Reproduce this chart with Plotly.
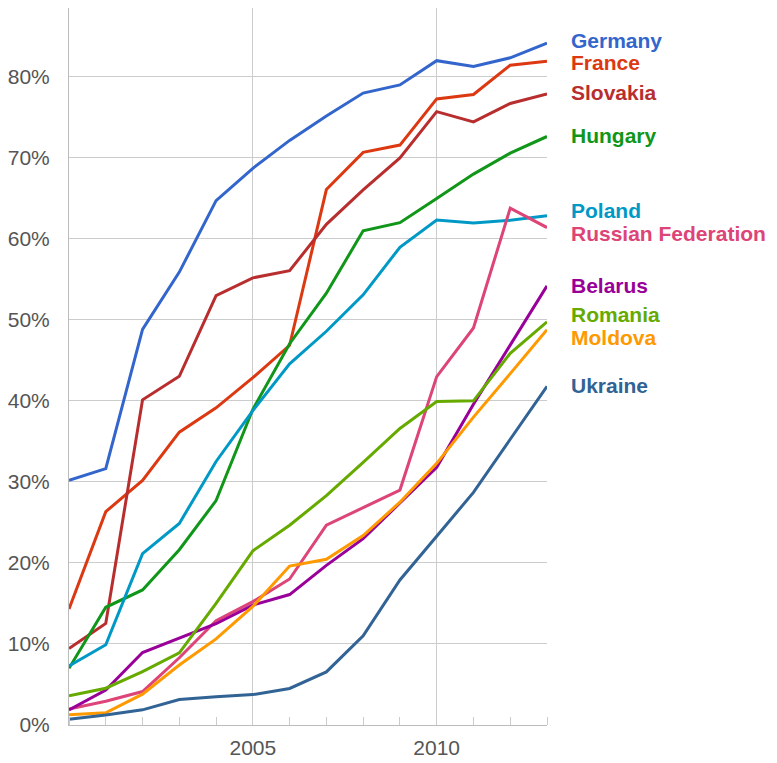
import plotly.graph_objects as go

years = list(range(2000, 2014))

germany = [30.2, 31.65, 48.82, 55.9, 64.73, 68.71, 72.16, 75.16, 78.0, 79.0, 82.0, 81.27, 82.35, 84.17]
france = [14.31, 26.33, 30.18, 36.14, 39.15, 42.87, 46.87, 66.09, 70.68, 71.58, 77.28, 77.82, 81.44, 81.92]
slovakia = [9.43, 12.53, 40.14, 43.04, 53.0, 55.19, 56.08, 61.8, 66.05, 70.0, 75.71, 74.44, 76.71, 77.88]
hungary = [7.0, 14.53, 16.67, 21.63, 27.7, 38.97, 47.06, 53.3, 61.0, 62.0, 65.0, 68.0, 70.58, 72.64]
poland = [7.29, 9.9, 21.15, 24.87, 32.53, 38.81, 44.58, 48.6, 53.1, 58.97, 62.32, 61.95, 62.3, 62.85]
russia = [1.98, 2.94, 4.13, 8.3, 12.86, 15.23, 18.02, 24.66, 26.83, 29.0, 43.0, 49.0, 63.8, 61.4]
belarus = [1.86, 4.3, 8.95, 10.7, 12.5, 14.8, 16.1, 19.7, 23.0, 27.4, 31.8, 39.6, 46.9, 54.2]
romania = [3.61, 4.54, 6.58, 8.9, 15.0, 21.5, 24.66, 28.3, 32.42, 36.6, 39.93, 40.01, 45.88, 49.76]
moldova = [1.28, 1.5, 3.8, 7.4, 10.63, 14.63, 19.62, 20.45, 23.39, 27.5, 32.3, 38.0, 43.37, 48.8]
ukraine = [0.72, 1.24, 1.87, 3.15, 3.49, 3.75, 4.51, 6.55, 11.0, 17.9, 23.3, 28.71, 35.27, 41.8]

countries = ["Germany", "France", "Slovakia", "Hungary", "Poland", "Russian Federation",
             "Belarus", "Romania", "Moldova", "Ukraine"]
series = [germany, france, slovakia, hungary, poland, russia, belarus, romania, moldova, ukraine]
colors = ["#3366cc", "#dc3912", "#b82e2e", "#109618", "#0099c6", "#dd4477",
          "#990099", "#66aa00", "#ff9900", "#316395"]

y_ticks = [0, 10, 20, 30, 40, 50, 60, 70, 80]
y_tick_text = ["0%", "10%", "20%", "30%", "40%", "50%", "60%", "70%", "80%"]
x_ticks = [2005, 2010]
x_tick_text = ["2005", "2010"]

# label vertical positions (de-overlapped, in data units)
label_y = [84.5, 81.8, 78.1, 72.75, 63.5, 60.7, 54.2, 50.7, 47.8, 41.9]

FONT = "Liberation Sans, Arial, sans-serif"

fig = go.Figure()
for name, vals, col in zip(countries, series, colors):
    fig.add_trace(go.Scatter(x=years, y=vals, mode="lines", name=name,
                             line=dict(color=col, width=3), showlegend=False))

for name, ly, col in zip(countries, label_y, colors):
    fig.add_annotation(x=years[-1], y=ly, xref="x", yref="y", text="<b>" + name + "</b>",
                       showarrow=False, xanchor="left", yanchor="middle",
                       xshift=22, font=dict(family=FONT, size=21, color=col))

fig.update_layout(
    width=769, height=755,
    margin=dict(l=61, r=230, t=0, b=38),
    paper_bgcolor="white", plot_bgcolor="white",
    font=dict(family=FONT, size=21, color="#555555"),
    xaxis=dict(range=[2000, 2013], tickvals=x_ticks, ticktext=x_tick_text,
               showgrid=True, gridcolor="#cccccc", gridwidth=1, automargin=False,
               ticks="", showline=True, linecolor="#bbbbbb", linewidth=1,
               zeroline=False, ticklabelstandoff=4,
               tickfont=dict(size=21, color="#555555"),
               minor=dict(tickvals=years, ticks="inside", ticklen=8,
                          tickcolor="#cccccc", showgrid=False)),
    yaxis=dict(range=[0, 88.5], tickvals=y_ticks, ticktext=y_tick_text,
               showgrid=True, gridcolor="#cccccc", gridwidth=1, automargin=False,
               ticks="", showline=True, linecolor="#bbbbbb", linewidth=1,
               zeroline=False, ticklabelstandoff=14,
               tickfont=dict(size=21, color="#555555")),
)

fig.write_html("out.html")
